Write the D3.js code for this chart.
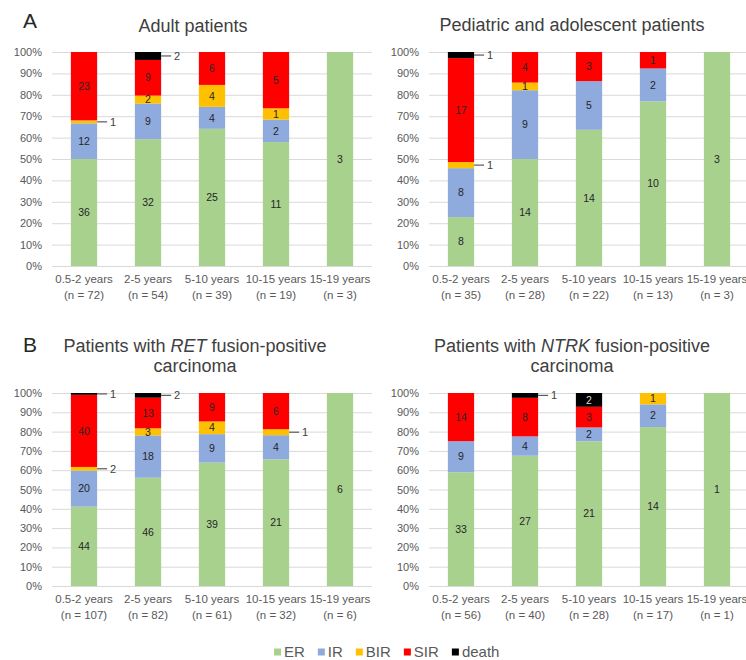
<!DOCTYPE html>
<html>
<head>
<meta charset="utf-8">
<script src="https://cdn.jsdelivr.net/npm/d3@7"></script>
<style>
  html, body { margin: 0; padding: 0; background: #fff; }
  svg { display: block; font-family: "Liberation Sans", Arial, sans-serif; }
</style>
</head>
<body>
<svg id="chart" width="746" height="660"></svg>
<script>
// Follow-up response categories per age-at-diagnosis group
const categories = ["0.5-2 years", "2-5 years", "5-10 years", "10-15 years", "15-19 years"];
const seriesNames = ["ER", "IR", "BIR", "SIR", "death"];
const seriesColors = ["#a9d18e", "#8faadc", "#ffc000", "#ff0000", "#000000"];

// Adult patients
const adultER    = [36, 32, 25, 11, 3];
const adultIR    = [12, 9, 4, 2, 0];
const adultBIR   = [1, 2, 4, 1, 0];
const adultSIR   = [23, 9, 6, 5, 0];
const adultDeath = [0, 2, 0, 0, 0];

// Pediatric and adolescent patients
const pedER    = [8, 14, 14, 10, 3];
const pedIR    = [8, 9, 5, 2, 0];
const pedBIR   = [1, 1, 0, 0, 0];
const pedSIR   = [17, 4, 3, 1, 0];
const pedDeath = [1, 0, 0, 0, 0];

// RET fusion-positive carcinoma
const retER    = [44, 46, 39, 21, 6];
const retIR    = [20, 18, 9, 4, 0];
const retBIR   = [2, 3, 4, 1, 0];
const retSIR   = [40, 13, 9, 6, 0];
const retDeath = [1, 2, 0, 0, 0];

// NTRK fusion-positive carcinoma
const ntrkER    = [33, 27, 21, 14, 1];
const ntrkIR    = [9, 4, 2, 2, 0];
const ntrkBIR   = [0, 0, 0, 1, 0];
const ntrkSIR   = [14, 8, 3, 0, 0];
const ntrkDeath = [0, 1, 2, 0, 0];

const yTicks = [0, 0.1, 0.2, 0.3, 0.4, 0.5, 0.6, 0.7, 0.8, 0.9, 1];

function rows(er, ir, bir, sir, death) {
  return categories.map((c, i) => ({
    cat: c, ER: er[i], IR: ir[i], BIR: bir[i], SIR: sir[i], death: death[i],
    n: er[i] + ir[i] + bir[i] + sir[i] + death[i]
  }));
}

const panels = [
  { data: rows(adultER, adultIR, adultBIR, adultSIR, adultDeath),
    left: 52, top: 52, bottom: 266, title: [["Adult patients"]], titleX: 193, titleY: 32,
    letter: "A", letterX: 23, letterY: 28 },
  { data: rows(pedER, pedIR, pedBIR, pedSIR, pedDeath),
    left: 429, top: 52, bottom: 266, title: [["Pediatric and adolescent patients"]], titleX: 572, titleY: 31 },
  { data: rows(retER, retIR, retBIR, retSIR, retDeath),
    left: 52, top: 393, bottom: 586,
    title: [["Patients with ", ["RET"], " fusion-positive"], ["carcinoma"]], titleX: 195, titleY: 352,
    letter: "B", letterX: 23, letterY: 352 },
  { data: rows(ntrkER, ntrkIR, ntrkBIR, ntrkSIR, ntrkDeath),
    left: 429, top: 393, bottom: 586,
    title: [["Patients with ", ["NTRK"], " fusion-positive"], ["carcinoma"]], titleX: 572, titleY: 352 }
];

const svg = d3.select("#chart");
const plotWidth = 320;
const stack = d3.stack().keys(seriesNames).offset(d3.stackOffsetExpand);

panels.forEach(p => {
  const g = svg.append("g");
  const x = d3.scaleBand().domain(categories).range([p.left, p.left + plotWidth])
    .paddingInner(0.59).paddingOuter(0.295);
  const y = d3.scaleLinear().domain([0, 1]).range([p.bottom, p.top]);

  // gridlines
  g.append("g")
    .attr("transform", `translate(${p.left},0)`)
    .call(d3.axisLeft(y).tickValues(yTicks).tickSize(-plotWidth).tickFormat(""))
    .call(a => a.select(".domain").remove())
    .call(a => a.selectAll("line").attr("stroke", "#d9d9d9").attr("stroke-width", 1));

  // percentage tick labels
  g.append("g")
    .attr("transform", `translate(${p.left},0)`)
    .call(d3.axisLeft(y).tickValues(yTicks).tickSize(0).tickPadding(10).tickFormat(d3.format(".0%")))
    .call(a => a.select(".domain").remove())
    .call(a => a.selectAll("text").attr("fill", "#595959").style("font-size", "11px")
      .style("font-family", "'Liberation Sans', Arial, sans-serif"));

  // category labels
  const cat = g.append("g").selectAll("text").data(p.data).join("text")
    .attr("x", d => x(d.cat) + x.bandwidth() / 2)
    .attr("y", p.bottom + 17)
    .attr("text-anchor", "middle")
    .attr("fill", "#595959")
    .style("font-size", "11.5px");
  cat.append("tspan").text(d => d.cat);
  cat.append("tspan").attr("x", d => x(d.cat) + x.bandwidth() / 2).attr("dy", 16)
    .text(d => `(n = ${d.n})`);

  // stacked bars
  const layers = stack(p.data);
  layers.forEach((layer, li) => {
    const lg = g.append("g");
    lg.selectAll("rect").data(layer.filter(s => s.data[layer.key] > 0)).join("rect")
      .attr("x", s => x(s.data.cat))
      .attr("width", x.bandwidth())
      .attr("y", s => y(s[1]))
      .attr("height", s => y(s[0]) - y(s[1]))
      .attr("fill", seriesColors[li]);
  });

  // value labels
  layers.forEach((layer, li) => {
    layer.forEach(s => {
      const v = s.data[layer.key];
      if (v <= 0) return;
      const share = s[1] - s[0];
      const cy = y((s[0] + s[1]) / 2);
      const outside = share < 0.035 || (layer.key === "death" && share < 0.05);
      if (outside) {
        const x0 = x(s.data.cat) + x.bandwidth();
        g.append("line")
          .attr("x1", x0).attr("x2", x0 + 10)
          .attr("y1", cy).attr("y2", cy)
          .attr("stroke", "#595959").attr("stroke-width", 1.2);
        g.append("text")
          .attr("x", x0 + 13).attr("y", cy).attr("dy", "0.35em")
          .attr("fill", "#404040").style("font-size", "11px")
          .text(v);
      } else {
        g.append("text")
          .attr("x", x(s.data.cat) + x.bandwidth() / 2).attr("y", cy).attr("dy", "0.35em")
          .attr("text-anchor", "middle")
          .attr("fill", layer.key === "death" ? "#d9d9d9" : "#262626")
          .style("font-size", "10.5px")
          .text(v);
      }
    });
  });

  // title
  p.title.forEach((line, li) => {
    const t = g.append("text")
      .attr("x", p.titleX).attr("y", p.titleY + li * 20)
      .attr("text-anchor", "middle")
      .attr("fill", "#404040")
      .style("font-size", "18px");
    line.forEach(part => {
      if (Array.isArray(part)) t.append("tspan").style("font-style", "italic").text(part[0]);
      else t.append("tspan").text(part);
    });
  });

  if (p.letter) {
    g.append("text").attr("x", p.letterX).attr("y", p.letterY)
      .attr("fill", "#262626").style("font-size", "21px").text(p.letter);
  }
});

// legend
const legend = svg.append("g").attr("transform", "translate(274,652)");
let lx = 0;
seriesNames.forEach((name, i) => {
  legend.append("rect").attr("x", lx).attr("y", -3.5).attr("width", 7).attr("height", 7)
    .attr("fill", seriesColors[i]);
  const t = legend.append("text").attr("x", lx + 10).attr("y", 0).attr("dy", "0.35em")
    .attr("fill", "#595959").style("font-size", "15px").text(name);
  lx += 10 + t.node().getComputedTextLength() + 13;
});
</script>
</body>
</html>
